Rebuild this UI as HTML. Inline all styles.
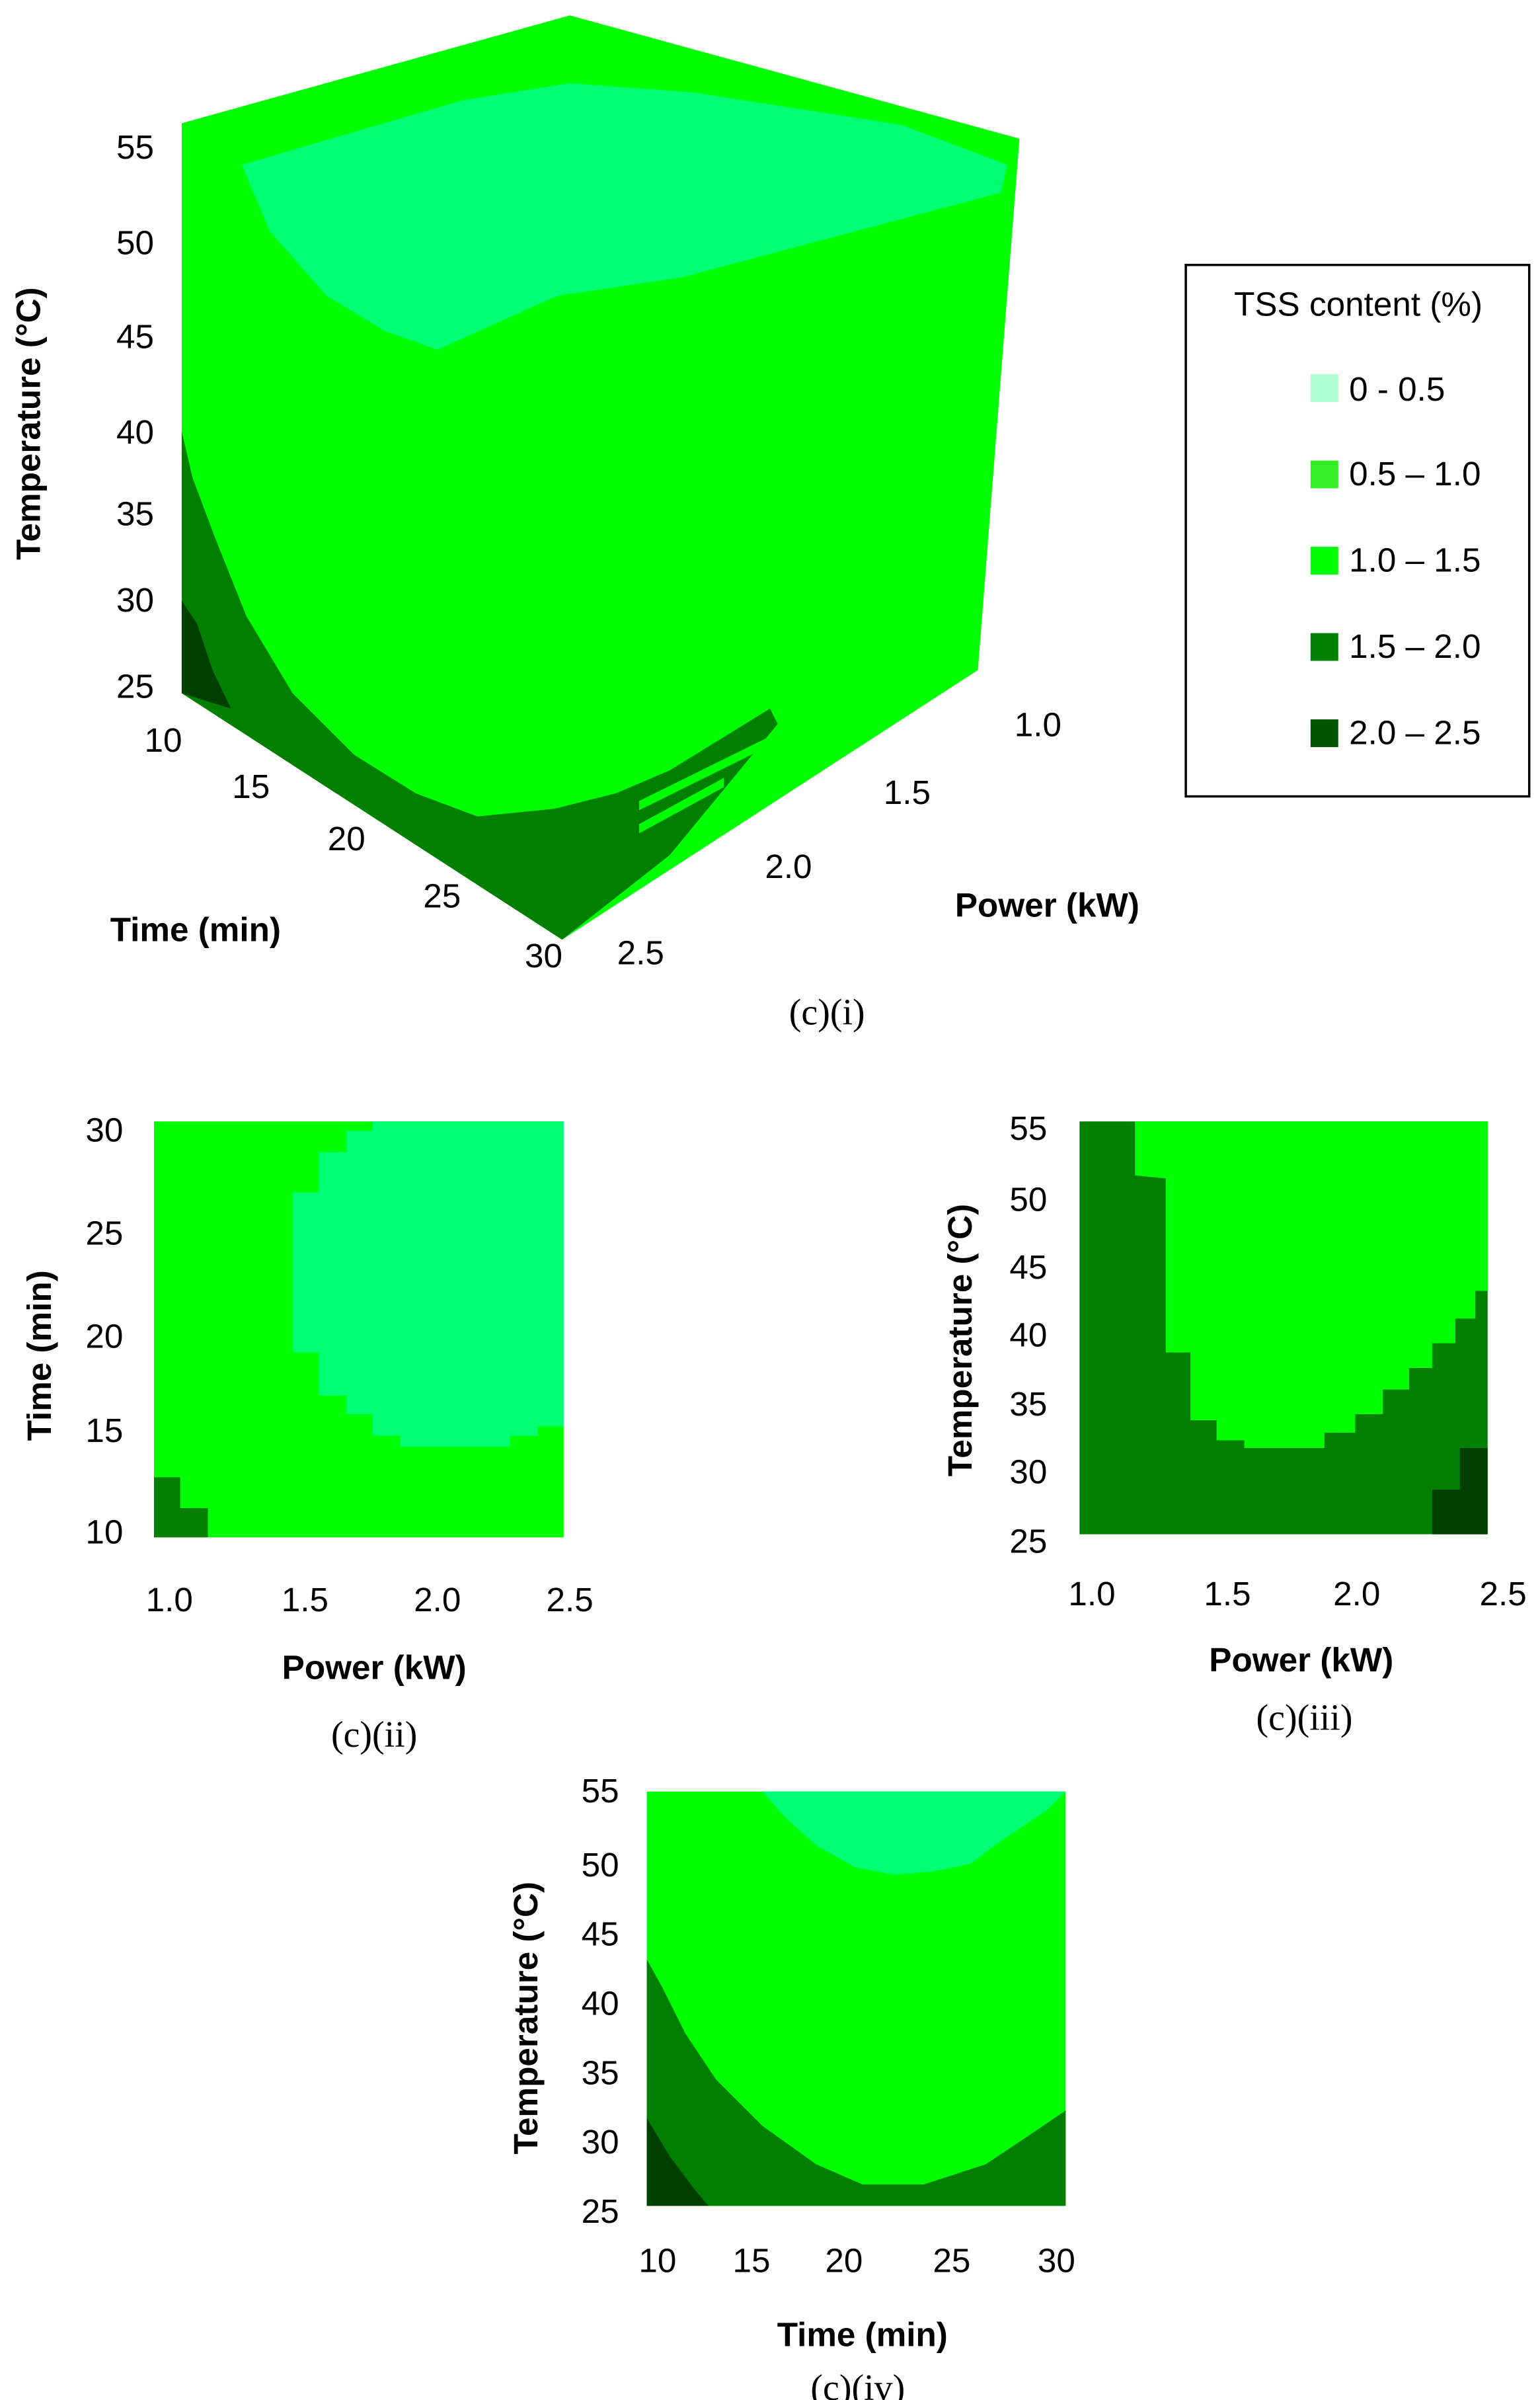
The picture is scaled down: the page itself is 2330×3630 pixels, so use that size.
<!DOCTYPE html>
<html><head><meta charset="utf-8"><style>html,body{margin:0;padding:0;background:#fff}svg{display:block}</style></head>
<body>
<svg width="2330" height="3630" viewBox="0 0 1000 1558" preserveAspectRatio="none" xmlns="http://www.w3.org/2000/svg" font-family="Liberation Sans, sans-serif">
<!-- cube -->
<polygon points="118,80 370,10 662,90 635,435 365,610 118,450" fill="#00ff00"/>
<polygon points="157,107 239,83 301,65 370,54 450,60 585,81 654,107 650,125 443,180 362,192 284,227 250,215 212,192 175,150" fill="#00ff73"/>
<polygon points="118,280 125,310 140,350 160,400 190,450 230,490 270,515 310,530 360,525 400,515 435,500 500,460 505,470 435,555 365,610 118,450" fill="#007f00"/>
<polygon points="415,520 500,478 500,484 415,526" fill="#00ff00"/>
<polygon points="415,535 470,505 470,511 415,541" fill="#00ff00"/>
<polygon points="118,390 128,405 138,435 150,460 118,450" fill="#003f00"/>
<g font-size="22" fill="#000" text-anchor="end">
<text x="100" y="103">55</text><text x="100" y="165">50</text><text x="100" y="226">45</text><text x="100" y="288">40</text><text x="100" y="341">35</text><text x="100" y="397">30</text><text x="100" y="453">25</text>
</g>
<g font-size="22" fill="#000" text-anchor="middle">
<text x="106" y="488">10</text><text x="163" y="518">15</text><text x="225" y="552">20</text><text x="287" y="589">25</text><text x="353" y="628">30</text>
<text x="674" y="478">1.0</text><text x="589" y="522">1.5</text><text x="512" y="570">2.0</text><text x="416" y="626">2.5</text>
</g>
<g font-size="22" font-weight="bold" fill="#000" text-anchor="middle">
<text x="127" y="611">Time (min)</text><text x="680" y="595">Power (kW)</text>
<text transform="translate(26,275) rotate(-90)">Temperature (°C)</text>
</g>
<text x="537" y="665" font-family="Liberation Serif, serif" font-size="24" text-anchor="middle">(c)(i)</text>
<!-- legend -->
<rect x="770" y="172" width="223" height="345" fill="#fff" stroke="#000" stroke-width="1.5"/>
<text x="882" y="205" font-size="22" text-anchor="middle">TSS content (%)</text>
<rect x="851" y="243" width="18" height="18" fill="#b0ffd0"/><text x="876" y="260" font-size="22">0 - 0.5</text>
<rect x="851" y="299" width="18" height="18" fill="#33ee22"/><text x="876" y="315" font-size="22">0.5 – 1.0</text>
<rect x="851" y="355" width="18" height="18" fill="#00ff00"/><text x="876" y="371" font-size="22">1.0 – 1.5</text>
<rect x="851" y="411" width="18" height="18" fill="#007f00"/><text x="876" y="427" font-size="22">1.5 – 2.0</text>
<rect x="851" y="467" width="18" height="18" fill="#005500"/><text x="876" y="483" font-size="22">2.0 – 2.5</text>
<!-- (ii) -->
<rect x="100" y="728" width="266" height="270" fill="#00ff00"/>
<polygon points="242,728 366,728 366,926 349,926 349,932 331,932 331,939 260,939 260,932 242,932 242,918 225,918 225,906 207,906 207,878 190,878 190,774 207,774 207,748 225,748 225,734 242,734" fill="#00ff73"/>
<polygon points="100,959 117,959 117,979 135,979 135,998 100,998" fill="#007f00"/>
<g font-size="22" text-anchor="end"><text x="80" y="741">30</text><text x="80" y="808">25</text><text x="80" y="875">20</text><text x="80" y="936">15</text><text x="80" y="1002">10</text></g>
<g font-size="22" text-anchor="middle"><text x="110" y="1046">1.0</text><text x="198" y="1046">1.5</text><text x="284" y="1046">2.0</text><text x="370" y="1046">2.5</text></g>
<g font-size="22" font-weight="bold" text-anchor="middle"><text x="243" y="1090">Power (kW)</text><text transform="translate(33,880) rotate(-90)">Time (min)</text></g>
<text x="243" y="1134" font-family="Liberation Serif, serif" font-size="24" text-anchor="middle">(c)(ii)</text>
<!-- (iii) -->
<rect x="701" y="728" width="265" height="268" fill="#007f00"/>
<polygon points="737,728 966,728 966,838 958,838 958,856 945,856 945,872 930,872 930,888 915,888 915,902 898,902 898,918 880,918 880,930 860,930 860,940 808,940 808,935 790,935 790,922 773,922 773,878 757,878 757,765 737,763" fill="#00ff00"/>
<polygon points="930,996 930,967 948,967 948,940 966,940 966,996" fill="#003f00"/>
<g font-size="22" text-anchor="end"><text x="680" y="740">55</text><text x="680" y="786">50</text><text x="680" y="830">45</text><text x="680" y="874">40</text><text x="680" y="919">35</text><text x="680" y="963">30</text><text x="680" y="1008">25</text></g>
<g font-size="22" text-anchor="middle"><text x="709" y="1042">1.0</text><text x="797" y="1042">1.5</text><text x="881" y="1042">2.0</text><text x="976" y="1042">2.5</text></g>
<g font-size="22" font-weight="bold" text-anchor="middle"><text x="845" y="1085">Power (kW)</text><text transform="translate(631,870) rotate(-90)">Temperature (°C)</text></g>
<text x="847" y="1123" font-family="Liberation Serif, serif" font-size="24" text-anchor="middle">(c)(iii)</text>
<!-- (iv) -->
<rect x="420" y="1163" width="272" height="269" fill="#00ff00"/>
<polygon points="495,1163 692,1163 680,1175 650,1195 630,1210 605,1215 580,1217 555,1212 530,1198 510,1180" fill="#00ff73"/>
<polygon points="420,1272 430,1290 445,1320 465,1350 495,1380 530,1405 560,1418 600,1418 640,1405 670,1385 692,1370 692,1432 420,1432" fill="#007f00"/>
<polygon points="420,1375 435,1400 450,1420 460,1432 420,1432" fill="#003f00"/>
<g font-size="22" text-anchor="end"><text x="402" y="1170">55</text><text x="402" y="1218">50</text><text x="402" y="1263">45</text><text x="402" y="1308">40</text><text x="402" y="1353">35</text><text x="402" y="1398">30</text><text x="402" y="1443">25</text></g>
<g font-size="22" text-anchor="middle"><text x="427" y="1475">10</text><text x="488" y="1475">15</text><text x="548" y="1475">20</text><text x="618" y="1475">25</text><text x="686" y="1475">30</text></g>
<g font-size="22" font-weight="bold" text-anchor="middle"><text x="560" y="1523">Time (min)</text><text transform="translate(349,1310) rotate(-90)">Temperature (°C)</text></g>
<text x="557" y="1558" font-family="Liberation Serif, serif" font-size="24" text-anchor="middle">(c)(iv)</text>
</svg>
</body></html>
